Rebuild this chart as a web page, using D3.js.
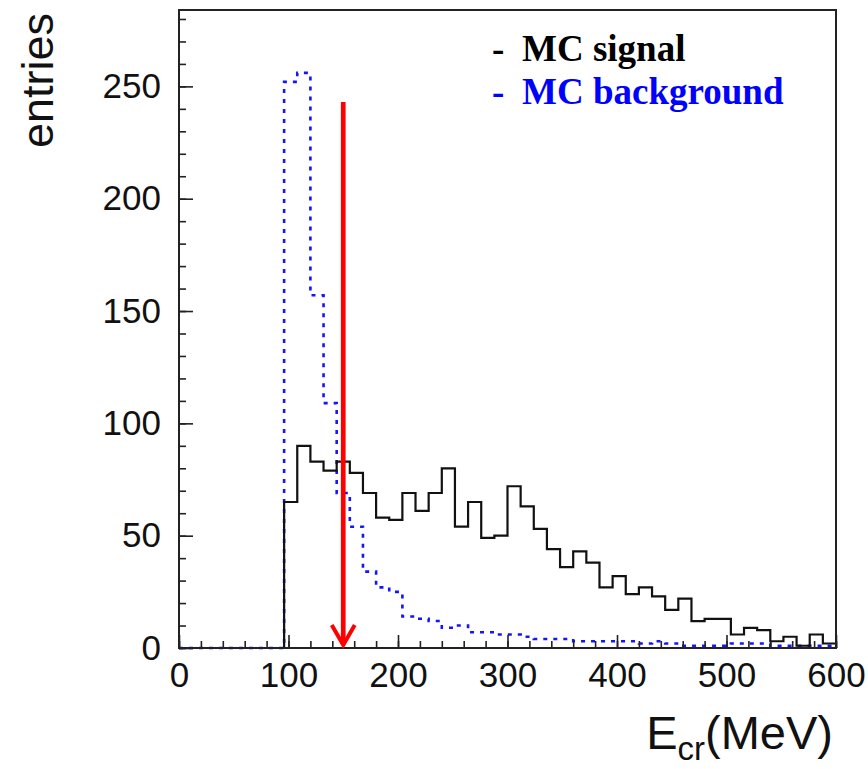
<!DOCTYPE html>
<html>
<head>
<meta charset="utf-8">
<script src="https://cdn.jsdelivr.net/npm/d3@7"></script>
<style>
  body { margin: 0; background: #fff; }
  svg { display: block; }
</style>
</head>
<body>
<svg id="drawing_region"></svg>
<script>
// bin edges: 50 bins of 12 MeV from 0 to 600
const binWidth = 12;
const binStarts = d3.range(0, 600, binWidth);

// entries per bin
const signalCounts = [0,0,0,0,0,0,0,0,
    65,90,83,79,83,78,69,58,57,69,61,69,80,54,65,49,50,72,63,53,44,
    36,43,38,27,32,24,27,23,17,22,12,13,13,6,9,8,3,5,1,6,2];
const backgroundCounts = [0,0,0,0,0,0,0,0,
    252,256,157,109,69,54,34,27,25,14,13,12,9,10,7,7,6,6,5,4,4,
    4,3,3,3,3,3,2,3,2,1,1,1,1,2,2,2,1,1,1,1,1];

const xTicks = [0, 100, 200, 300, 400, 500, 600];
const yTicks = [0, 50, 100, 150, 200, 250];
const legendLabels = ['MC signal', 'MC background'];
const cutValue = 150;      // MeV, red arrow position
const cutArrowTop = 243;   // entries, where the arrow starts

class HistChart {

    constructor(config) {
        this.config = {
            parent: config.parent,
            width: config.width || 868,
            height: config.height || 769,
            margin: config.margin
        };
        this.init();
    }

    init() {
        let self = this;
        let m = self.config.margin;

        self.svg = d3.select(self.config.parent)
            .attr('width', self.config.width)
            .attr('height', self.config.height);

        self.x = d3.scaleLinear()
            .domain([0, 600])
            .range([m.left, self.config.width - m.right]);

        self.y = d3.scaleLinear()
            .domain([0, 284])
            .range([self.config.height - m.bottom, m.top]);

        self.line = d3.line()
            .x(d => self.x(d[0]))
            .y(d => self.y(d[1]))
            .curve(d3.curveStepAfter);
    }

    steps(counts) {
        let pts = binStarts.map((b, i) => [b, counts[i]]);
        pts.unshift([0, 0]);
        pts.push([600, counts[counts.length - 1]]);
        pts.push([600, 0]);
        return pts;
    }

    render() {
        let self = this;
        let font = '"Liberation Sans", Arial, Helvetica, sans-serif';

        // histograms
        self.svg.append('path')
            .attr('d', self.line(self.steps(backgroundCounts)))
            .attr('fill', 'none')
            .attr('stroke', '#1414ff')
            .attr('stroke-width', 2.6)
            .attr('stroke-dasharray', '4 6');

        self.svg.append('path')
            .attr('d', self.line(self.steps(signalCounts)))
            .attr('fill', 'none')
            .attr('stroke', '#111')
            .attr('stroke-width', 2.2);

        // frame
        self.svg.append('rect')
            .attr('x', self.x(0))
            .attr('y', self.y(284))
            .attr('width', self.x(600) - self.x(0))
            .attr('height', self.y(0) - self.y(284))
            .attr('fill', 'none')
            .attr('stroke', '#222')
            .attr('stroke-width', 2);

        // x axis: major + minor ticks, inside
        let xAxis = self.svg.append('g')
            .attr('transform', `translate(0,${self.y(0)})`)
            .call(d3.axisBottom(self.x).tickValues(xTicks).tickSize(-13).tickPadding(14).tickFormat(d3.format('d')));
        self.svg.append('g')
            .attr('transform', `translate(0,${self.y(0)})`)
            .call(d3.axisBottom(self.x).tickValues(d3.range(0, 601, 20)).tickSize(-7).tickFormat(''))
            .select('.domain').remove();

        // y axis
        let yAxis = self.svg.append('g')
            .attr('transform', `translate(${self.x(0)},0)`)
            .call(d3.axisLeft(self.y).tickValues(yTicks).tickSize(-14).tickPadding(18).tickFormat(d3.format('d')));
        self.svg.append('g')
            .attr('transform', `translate(${self.x(0)},0)`)
            .call(d3.axisLeft(self.y).tickValues(d3.range(0, 281, 10)).tickSize(-7).tickFormat(''))
            .select('.domain').remove();

        [xAxis, yAxis].forEach(a => {
            a.select('.domain').remove();
            a.selectAll('text')
                .attr('fill', '#111')
                .style('font-family', font)
                .style('font-size', '35px');
        });
        self.svg.selectAll('g line').attr('stroke', '#222').attr('stroke-width', 1.6);

        // axis titles
        self.svg.append('text')
            .attr('transform', 'translate(53,13) rotate(-90)')
            .attr('text-anchor', 'end')
            .style('font-family', font)
            .style('font-size', '45px')
            .attr('fill', '#111')
            .text('entries');

        let xt = self.svg.append('text')
            .attr('x', 833)
            .attr('y', 749)
            .attr('text-anchor', 'end')
            .style('font-family', font)
            .style('font-size', '47px')
            .attr('fill', '#111');
        xt.append('tspan').text('E');
        xt.append('tspan').attr('dy', 11).style('font-size', '33px').text('cr');
        xt.append('tspan').attr('dy', -11).text('(MeV)');

        // cut arrow
        let ax = self.x(cutValue);
        let tip = self.y(0) - 3;
        self.svg.append('line')
            .attr('x1', ax).attr('x2', ax)
            .attr('y1', self.y(cutArrowTop)).attr('y2', tip)
            .attr('stroke', '#ff0000')
            .attr('stroke-width', 4.7);
        self.svg.append('path')
            .attr('d', `M${ax - 11.5},${tip - 20}L${ax},${tip}L${ax + 11.5},${tip - 20}`)
            .attr('fill', 'none')
            .attr('stroke', '#ff0000')
            .attr('stroke-width', 4);

        // legend
        let colors = ['#000', '#0000ff'];
        let leg = self.svg.selectAll('.legend')
            .data(legendLabels)
            .enter()
            .append('g')
            .attr('class', 'legend')
            .attr('transform', (d, i) => `translate(492,${61 + i * 43})`);
        leg.append('text')
            .text('-');
        leg.append('text')
            .attr('x', 30)
            .text(d => d);
        leg.selectAll('text')
            .attr('fill', (d, i, n) => colors[legendLabels.indexOf(d3.select(n[i].parentNode).datum())])
            .style('font-family', '"Liberation Serif", "Times New Roman", serif')
            .style('font-weight', 'bold')
            .style('font-size', '37px');
    }
}

const chart = new HistChart({
    parent: '#drawing_region',
    width: 868,
    height: 769,
    margin: { top: 10, right: 32, bottom: 121, left: 179 }
});
chart.render();
</script>
</body>
</html>
